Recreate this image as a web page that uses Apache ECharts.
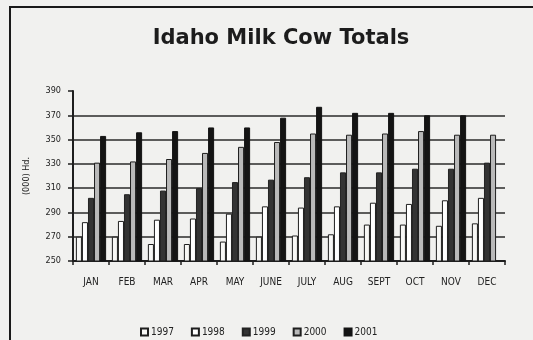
<!DOCTYPE html>
<html>
<head>
<meta charset="utf-8">
<script src="https://cdn.jsdelivr.net/npm/echarts@6/dist/echarts.min.js"></script>
<style>
  html, body { margin: 0; padding: 0; background: #f1f1ef; }
  #chart { width: 533px; height: 340px; }
</style>
</head>
<body>
<div id="chart"></div>
<script>
// Monthly Idaho milk cow inventory, thousands of head
const months = ['JAN', 'FEB', 'MAR', 'APR', 'MAY', 'JUNE', 'JULY', 'AUG', 'SEPT', 'OCT', 'NOV', 'DEC'];
const years = ['1997', '1998', '1999', '2000', '2001'];
const cows1997 = [270, 270, 264, 264, 266, 270, 271, 272, 280, 280, 279, 281];
const cows1998 = [282, 283, 284, 285, 289, 295, 294, 295, 298, 297, 300, 302];
const cows1999 = [302, 305, 308, 310, 315, 317, 319, 323, 323, 326, 326, 331];
const cows2000 = [331, 332, 334, 339, 344, 348, 355, 354, 355, 357, 354, 354];
const cows2001 = [353, 356, 357, 360, 360, 368, 377, 372, 372, 370, 370, null];
const yTicks = { min: 250, max: 390, step: 20 };

const font = "'Liberation Sans Narrow', 'DejaVu Sans Condensed', 'Liberation Sans', sans-serif";
const ink = '#1e1e1e';

const seriesValues = [cows1997, cows1998, cows1999, cows2000, cows2001];
const seriesStyles = [
  { color: '#f7f7f5', borderColor: ink, borderWidth: 1 },
  { color: '#ffffff', borderColor: ink, borderWidth: 1 },
  { color: '#333333', borderColor: '#222', borderWidth: 1 },
  { color: '#b9b9b9', borderColor: ink, borderWidth: 1 },
  { color: '#141414', borderColor: '#141414', borderWidth: 1 }
];

// one grid line per tick, but none at the top of the axis
const nTicks = (yTicks.max - yTicks.min) / yTicks.step + 1;
const gridColors = [];
for (let i = 0; i < nTicks; i++) gridColors.push(i === nTicks - 1 ? 'rgba(0,0,0,0)' : '#2a2a2a');

const chart = echarts.init(document.getElementById('chart'), null, { renderer: 'canvas' });
chart.setOption({
  backgroundColor: '#f1f1ef',
  animation: false,
  graphic: [
    {
      type: 'rect',
      shape: { x: 10, y: 7, width: 560, height: 400 },
      style: { fill: 'none', stroke: '#1a1a1a', lineWidth: 2 },
      z: 0
    }
  ],
  title: {
    text: 'Idaho Milk Cow Totals',
    left: 276,
    top: 23,
    textAlign: 'center',
    textStyle: { fontFamily: "'DejaVu Sans', sans-serif", fontWeight: 'bold', fontSize: 21, color: '#1c1c1c' }
  },
  legend: {
    data: years,
    left: 135,
    top: 322,
    icon: 'rect',
    itemWidth: 7,
    itemHeight: 7,
    itemGap: 17,
    textStyle: { fontFamily: font, fontSize: 10, color: '#222', padding: [0, 0, 0, -2] }
  },
  grid: { left: 73, right: 28, top: 91, bottom: 79, containLabel: false },
  xAxis: {
    type: 'category',
    data: months,
    axisLine: { lineStyle: { color: ink, width: 2 } },
    axisTick: { show: true, length: 4, lineStyle: { color: ink, width: 1.5 } },
    axisLabel: { fontFamily: font, fontSize: 10, color: '#222', margin: 16 },
    splitLine: { show: false }
  },
  yAxis: {
    type: 'value',
    min: yTicks.min,
    max: yTicks.max,
    interval: yTicks.step,
    name: '(000) Hd.',
    nameLocation: 'middle',
    nameGap: 42,
    nameTextStyle: { fontFamily: font, fontSize: 9, color: '#222' },
    axisLine: { show: true, lineStyle: { color: ink, width: 2 } },
    axisTick: { show: true, length: 5, lineStyle: { color: ink, width: 1.5 } },
    axisLabel: { fontFamily: font, fontSize: 9, color: '#222', margin: 12 },
    splitLine: { show: true, lineStyle: { color: gridColors, width: 1.6 } }
  },
  series: years.map((y, i) => ({
    name: y,
    type: 'bar',
    data: seriesValues[i],
    barGap: '0%',
    barCategoryGap: '16%',
    itemStyle: seriesStyles[i]
  }))
});
</script>
</body>
</html>
